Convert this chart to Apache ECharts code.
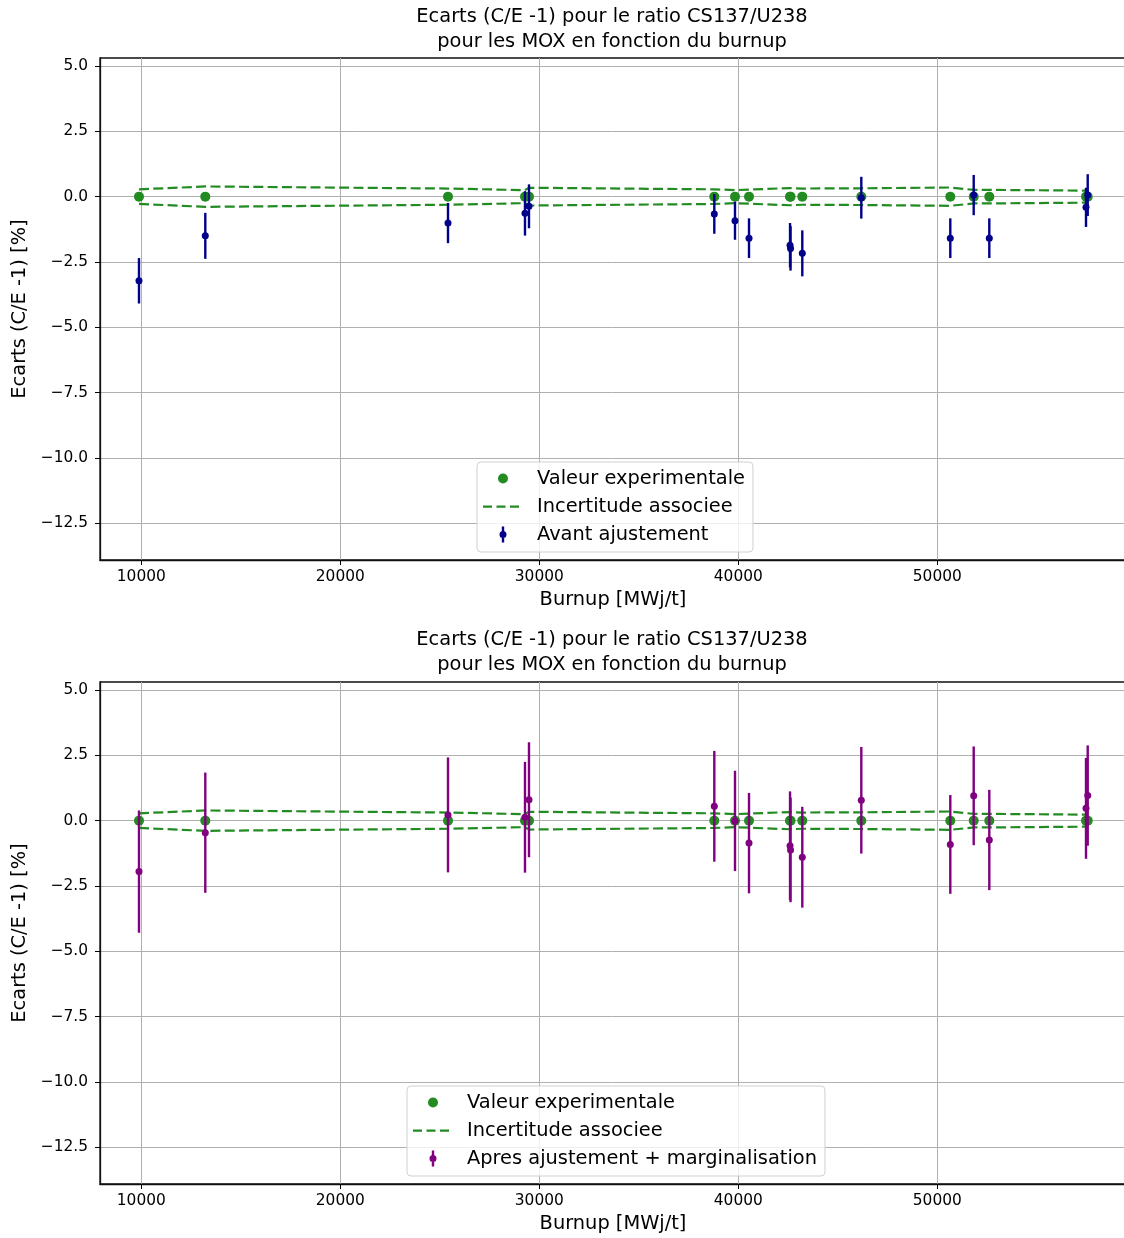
<!DOCTYPE html>
<html>
<head>
<meta charset="utf-8">
<script src="https://cdn.jsdelivr.net/npm/echarts@6/dist/echarts.min.js"></script>
<style>
html,body{margin:0;padding:0;background:#fff;}
#chart{width:1124px;height:1238px;}
</style>
</head>
<body>
<div id="chart"></div>
<script>
// ---- data ----
const burnup = [9884, 13216, 25412, 29281, 29482, 38794, 39834, 40538, 42600, 42625, 43216, 46181, 50653, 51829, 52613, 57472, 57558];
const experimental = [0, 0, 0, 0, 0, 0, 0, 0, 0, 0, 0, 0, 0, 0, 0, 0, 0];
const uncertainty = [0.28, 0.39, 0.31, 0.25, 0.34, 0.28, 0.25, 0.27, 0.33, 0.34, 0.31, 0.32, 0.35, 0.26, 0.26, 0.23, 0.23];
const avantValues = [-3.22, -1.50, -1.01, -0.64, -0.37, -0.66, -0.92, -1.59, -1.86, -1.98, -2.17, -0.04, -1.59, 0.06, -1.59, -0.41, 0.06];
const avantErrors = [0.87, 0.88, 0.77, 0.85, 0.84, 0.76, 0.73, 0.76, 0.85, 0.85, 0.88, 0.80, 0.76, 0.77, 0.76, 0.75, 0.80];
const apresValues = [-1.95, -0.46, 0.22, 0.13, 0.80, 0.55, -0.01, -0.86, -0.96, -1.12, -1.40, 0.78, -0.91, 0.95, -0.74, 0.47, 0.96];
const apresErrors = [2.34, 2.30, 2.20, 2.12, 2.20, 2.12, 1.92, 1.92, 2.08, 2.00, 1.93, 2.04, 1.89, 1.89, 1.92, 1.93, 1.92];
const titleText = 'Ecarts (C/E -1) pour le ratio CS137/U238\npour les MOX en fonction du burnup';
const xName = 'Burnup [MWj/t]';
const yName = 'Ecarts (C/E -1) [%]';
const nameExp = 'Valeur experimentale';
const nameUnc = 'Incertitude associee';
const nameAvant = 'Avant ajustement';
const nameApres = 'Apres ajustement + marginalisation';

// ---- styling ----
const FONT = 'DejaVu Sans';
const GREEN = '#228b22', BLUE = '#00008b', PURPLE = '#800080';
const X_MIN = 7925, X_MAX = 59482, Y_MIN = -13.905, Y_MAX = 5.306;
const ANCHORS = 'M0,0h0.01v0.01h-0.01z M48.99,17.99h0.01v0.01h-0.01z ';
const ICON_DOT = 'path://' + ANCHORS + 'M15,9a5,5 0 1,1 10,0a5,5 0 1,1 -10,0z';
const ICON_DASH = 'path://' + ANCHORS + 'M0,8h9v2.2h-9z M13.5,8h9v2.2h-9z M27,8h9v2.2h-9z';
const ICON_ERR = 'path://' + ANCHORS + 'M18.8,1h2.4v16h-2.4z M16.5,9a3.5,3.5 0 1,1 7,0a3.5,3.5 0 1,1 -7,0z';

const chart = echarts.init(document.getElementById('chart'), null, {renderer: 'canvas'});

function grid(top) {
  return {left: 100, right: -2, top: top, height: 502, show: true, borderColor: '#111', borderWidth: 1.3,
          backgroundColor: 'transparent', containLabel: false, outerBoundsMode: 'none'};
}
function xAxis(gi) {
  return {
    type: 'value', gridIndex: gi, min: X_MIN, max: X_MAX, minInterval: 10000, maxInterval: 10000,
    name: xName, nameLocation: 'middle', nameGap: 30,
    nameTextStyle: {fontFamily: FONT, fontSize: 19.4, color: '#000'},
    axisLine: {show: true, onZero: false, lineStyle: {color: '#111', width: 1.3}},
    axisTick: {show: true, inside: false, length: 5, lineStyle: {color: '#000', width: 1}},
    axisLabel: {show: true, margin: 9, fontFamily: FONT, fontSize: 15.4, color: '#000',
                showMinLabel: false, showMaxLabel: false, formatter: v => String(v)},
    splitLine: {show: true, showMinLine: false, showMaxLine: false, lineStyle: {color: '#b0b0b0', width: 1}}
  };
}
function yAxis(gi) {
  return {
    type: 'value', gridIndex: gi, min: Y_MIN, max: Y_MAX, minInterval: 2.5, maxInterval: 2.5,
    name: yName, nameLocation: 'middle', nameGap: 70, nameRotate: 90,
    nameTextStyle: {fontFamily: FONT, fontSize: 19.4, color: '#000'},
    axisLine: {show: true, onZero: false, lineStyle: {color: '#111', width: 1.3}},
    axisTick: {show: true, inside: false, length: 5, lineStyle: {color: '#000', width: 1}},
    axisLabel: {show: true, margin: 12, fontFamily: FONT, fontSize: 15.4, color: '#000',
                showMinLabel: false, showMaxLabel: false,
                formatter: v => (v < 0 ? '\u2212' : '') + Math.abs(v).toFixed(1)},
    splitLine: {show: true, showMinLine: false, showMaxLine: false, lineStyle: {color: '#b0b0b0', width: 1}}
  };
}
function expSeries(gi) {
  return {type: 'scatter', name: nameExp, xAxisIndex: gi, yAxisIndex: gi, symbol: 'circle', symbolSize: 10,
          itemStyle: {color: GREEN, borderWidth: 0, opacity: 1}, data: burnup.map((b, i) => [b, experimental[i]]), z: 2};
}
function uncSeries(gi, sign) {
  return {type: 'line', name: nameUnc, xAxisIndex: gi, yAxisIndex: gi, symbol: 'none', showSymbol: false,
          lineStyle: {color: GREEN, width: 2.2, type: [10, 4.3]}, itemStyle: {color: GREEN},
          data: burnup.map((b, i) => [b, experimental[i] + sign * uncertainty[i]]), z: 2};
}
function errSeries(gi, name, values, errors, color) {
  return {
    type: 'custom', name: name, xAxisIndex: gi, yAxisIndex: gi, itemStyle: {color: color},
    data: burnup.map((b, i) => [b, values[i], errors[i]]), encode: {x: 0, y: 1}, z: 3,
    renderItem: function (params, api) {
      const x = api.value(0), y = api.value(1), e = api.value(2);
      const p = api.coord([x, y]);
      const t = api.coord([x, y + e]);
      const b = api.coord([x, y - e]);
      return {type: 'group', children: [
        {type: 'line', shape: {x1: p[0], y1: t[1], x2: p[0], y2: b[1]}, style: {stroke: color, lineWidth: 2.4}},
        {type: 'circle', shape: {cx: p[0], cy: p[1], r: 3.5}, style: {fill: color}}
      ]};
    }
  };
}
function legend(left, top, errName, errColor) {
  return {
    orient: 'vertical', left: left, top: top, itemWidth: 49, itemHeight: 18, itemGap: 9,
    padding: [7, 8, 8, 6], backgroundColor: 'rgba(255,255,255,0.8)', borderColor: '#d0d0d0', borderWidth: 1,
    borderRadius: 4, symbolKeepAspect: true, selectedMode: false,
    itemStyle: {borderWidth: 0},
    textStyle: {fontFamily: FONT, fontSize: 19.4, color: '#000'},
    data: [
      {name: nameExp, icon: ICON_DOT, itemStyle: {color: GREEN, borderWidth: 0, opacity: 1}},
      {name: nameUnc, icon: ICON_DASH, itemStyle: {color: GREEN, borderWidth: 0}},
      {name: errName, icon: ICON_ERR, itemStyle: {color: errColor, borderWidth: 0}}
    ]
  };
}
function title(top) {
  return {text: titleText, left: 612, top: top, textAlign: 'center', padding: 0,
          textStyle: {fontFamily: FONT, fontSize: 19.4, fontWeight: 'normal', color: '#000', lineHeight: 25}};
}

chart.setOption({
  animation: false,
  backgroundColor: '#fff',
  title: [title(4), title(627)],
  grid: [grid(58), grid(682)],
  xAxis: [xAxis(0), xAxis(1)],
  yAxis: [yAxis(0), yAxis(1)],
  legend: [legend(477, 462, nameAvant, BLUE), legend(407, 1086, nameApres, PURPLE)],
  series: [
    expSeries(0), uncSeries(0, 1), uncSeries(0, -1), errSeries(0, nameAvant, avantValues, avantErrors, BLUE),
    expSeries(1), uncSeries(1, 1), uncSeries(1, -1), errSeries(1, nameApres, apresValues, apresErrors, PURPLE)
  ]
});
</script>
</body>
</html>
